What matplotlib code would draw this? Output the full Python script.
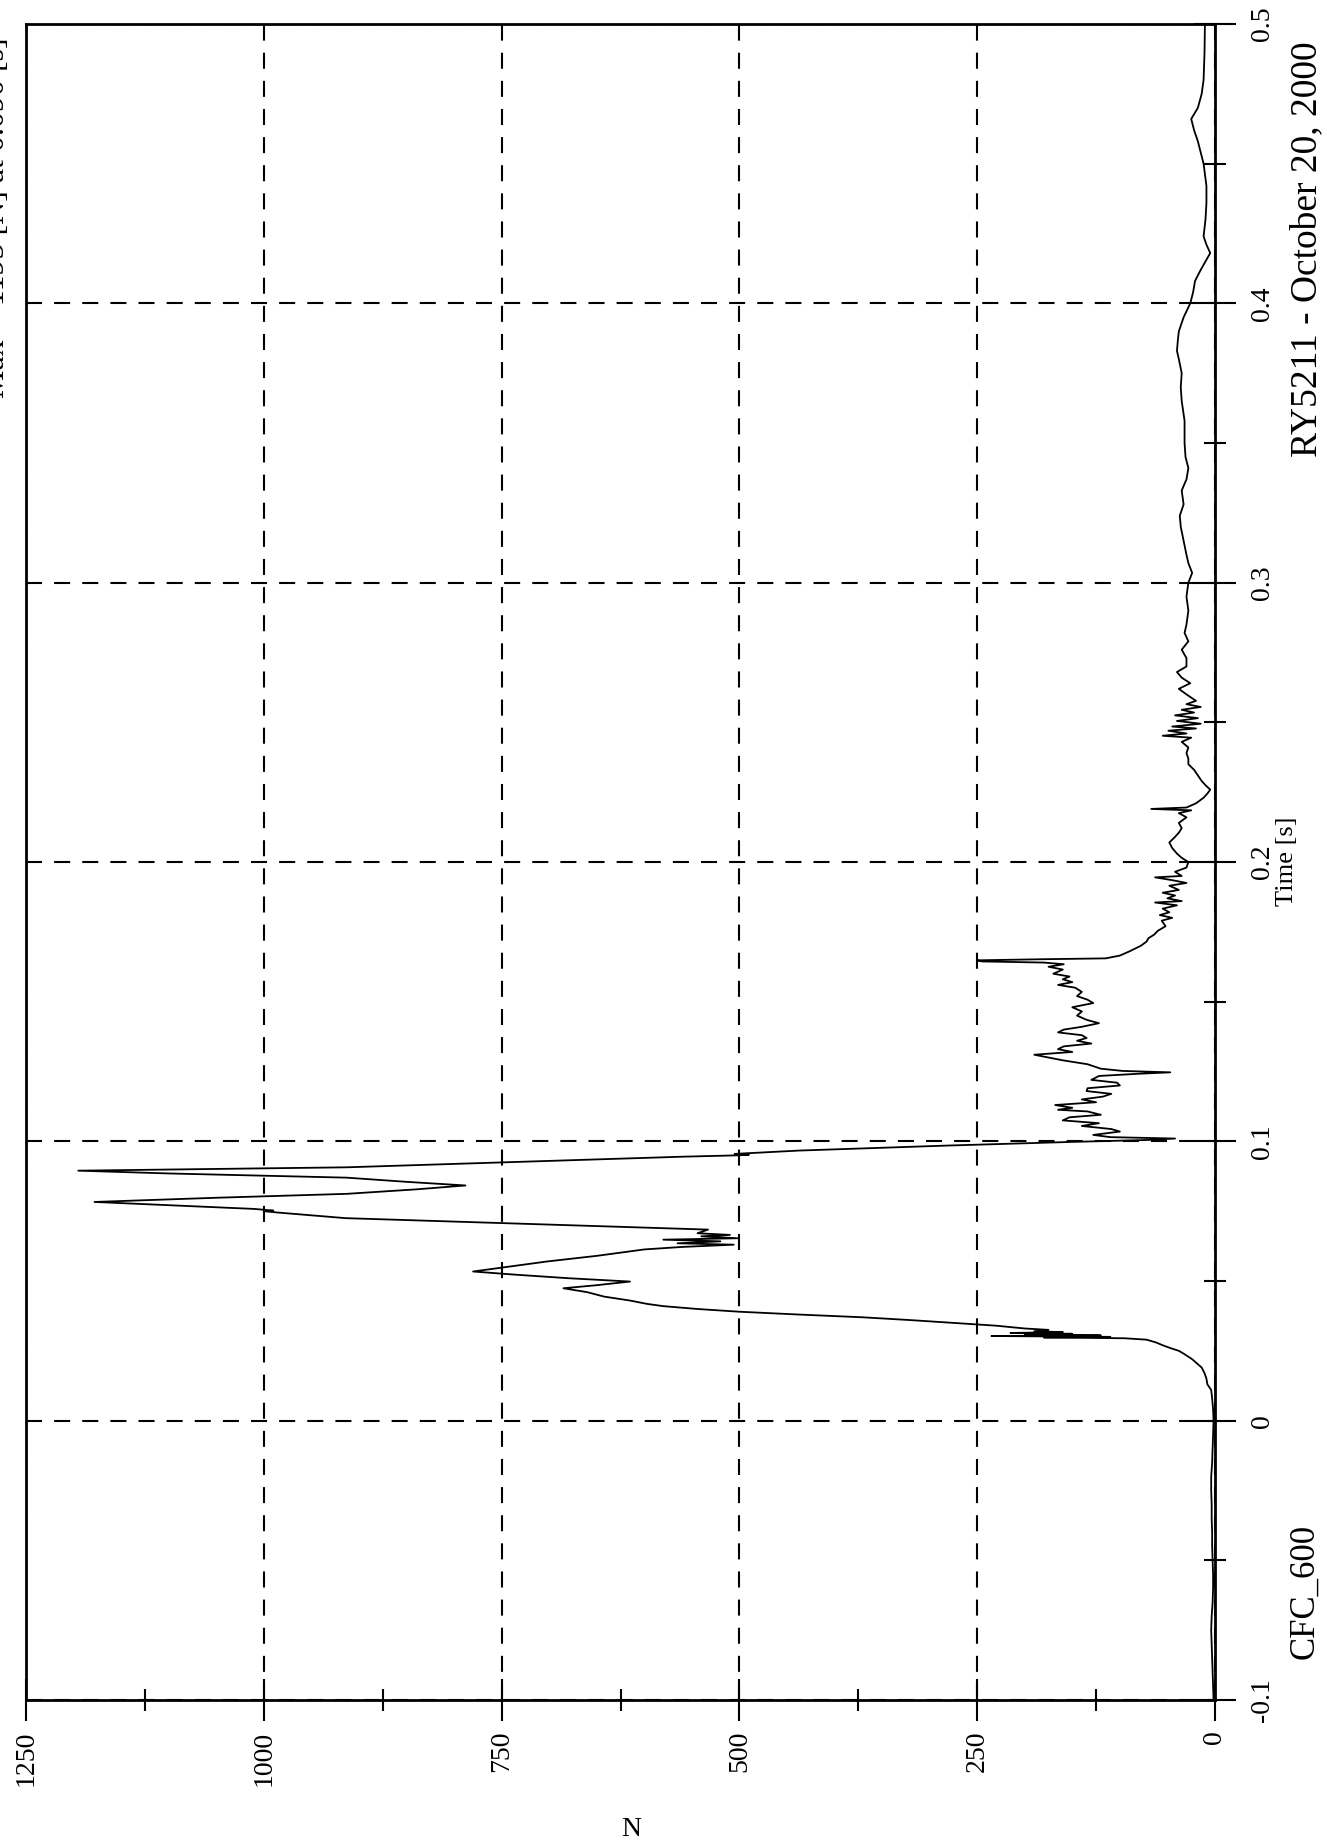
import numpy as np
import matplotlib.pyplot as plt

plt.rcParams['font.family'] = ['Liberation Serif', 'DejaVu Serif']

# time [s] and force [N]
time_s = [
    -0.100, -0.095, -0.090, -0.085, -0.080, -0.075, -0.070, -0.065, -0.060, -0.055,
    -0.050, -0.045, -0.040, -0.035, -0.030, -0.025, -0.020, -0.015, -0.010, -0.005,
    0.000, 0.004, 0.008, 0.011, 0.013, 0.015, 0.017, 0.019, 0.0205, 0.022,
    0.024, 0.025, 0.026, 0.027, 0.028, 0.029, 0.0295, 0.0298, 0.0300, 0.0303,
    0.0305, 0.0308, 0.0311, 0.0314, 0.0317, 0.0320, 0.0325, 0.033, 0.034, 0.035,
    0.036, 0.037, 0.038, 0.039, 0.040, 0.041, 0.0418, 0.043, 0.0444, 0.046,
    0.0474, 0.0485, 0.0498, 0.051, 0.0523, 0.0534, 0.055, 0.057, 0.059, 0.0613,
    0.0622, 0.063, 0.0635, 0.0642, 0.0648, 0.0653, 0.066, 0.0665, 0.0671, 0.0684,
    0.0725, 0.0745, 0.0750, 0.0752, 0.0758, 0.0783, 0.0798, 0.0812, 0.0828, 0.0842,
    0.0855, 0.0870, 0.0885, 0.0895, 0.0900, 0.0907, 0.0930, 0.0945, 0.0950, 0.0952,
    0.0955, 0.0967, 0.0985, 0.0998, 0.1005, 0.1010, 0.1015, 0.1023, 0.1035, 0.1044,
    0.1055, 0.1065, 0.1075, 0.1086, 0.1095, 0.1107, 0.1113, 0.1120, 0.1130, 0.1140,
    0.1150, 0.1160, 0.1170, 0.1180, 0.1190, 0.1200, 0.1210, 0.1220, 0.1234, 0.1242,
    0.1247, 0.1252, 0.1260, 0.1276, 0.1290, 0.1300, 0.1310, 0.1320, 0.1330, 0.1340,
    0.1350, 0.1360, 0.1370, 0.1380, 0.1390, 0.1400, 0.1410, 0.1423, 0.1435, 0.1450,
    0.1465, 0.1480, 0.1495, 0.1507, 0.1520, 0.1535, 0.1550, 0.1560, 0.1570, 0.1580,
    0.1590, 0.1600, 0.1615, 0.1625, 0.1634, 0.1640, 0.1644, 0.1648, 0.1652, 0.1655,
    0.1665, 0.1680, 0.1700, 0.1715, 0.1727, 0.1740, 0.1754, 0.1770, 0.1790, 0.1800,
    0.1810, 0.1820, 0.1833, 0.1845, 0.1855, 0.1860, 0.1870, 0.1880, 0.1890, 0.1900,
    0.1915, 0.1925, 0.1935, 0.1945, 0.1950, 0.1965, 0.1980, 0.2000, 0.2015, 0.2030,
    0.2050, 0.2070, 0.2090, 0.2105, 0.2121, 0.2140, 0.2160, 0.2175, 0.2185, 0.2190,
    0.2195, 0.2210, 0.2230, 0.2245, 0.2259, 0.2275, 0.2290, 0.2310, 0.2330, 0.2350,
    0.2370, 0.2390, 0.2410, 0.2430, 0.2445, 0.2452, 0.2460, 0.2470, 0.2478, 0.2485,
    0.2495, 0.2505, 0.2515, 0.2525, 0.2535, 0.2545, 0.2555, 0.2565, 0.2577, 0.2600,
    0.2620, 0.2640, 0.2660, 0.2680, 0.2700, 0.2730, 0.2760, 0.2790, 0.2820, 0.2850,
    0.2900, 0.2950, 0.3000, 0.3035, 0.3070, 0.3100, 0.3150, 0.3200, 0.3240, 0.3280,
    0.3330, 0.3370, 0.3410, 0.3450, 0.3500, 0.3580, 0.3650, 0.3700, 0.3750, 0.3800,
    0.3830, 0.3870, 0.3900, 0.3950, 0.4000, 0.4040, 0.4080, 0.4120, 0.4180, 0.4210,
    0.4240, 0.4300, 0.4360, 0.4420, 0.4500, 0.4580, 0.4620, 0.4660, 0.4700, 0.4750,
    0.4800, 0.4900, 0.5000,
]
force_n = [
    1.5, 2, 2.5, 3, 3.5, 4, 3.5, 2.5, 2, 2,
    2.5, 3, 3, 3.5, 3.5, 4, 4, 3, 2.5, 2,
    1.5, 2, 3, 4, 8, 9, 11, 14, 19, 24,
    33, 38, 47, 55, 62, 72, 95, 180, 110, 235,
    120, 200, 150, 215, 160, 190, 175, 200, 230, 275,
    320, 370, 438, 500, 545, 580, 597, 615, 642, 660,
    685, 650, 615, 680, 737, 780, 745, 702, 650, 600,
    560, 506, 565, 520, 580, 502, 540, 510, 544, 533,
    914, 985, 1000, 990, 1010, 1178, 1050, 913, 840, 788,
    850, 913, 1100, 1195, 1080, 913, 700, 560, 500, 490,
    505, 437, 280, 150, 70, 42, 110, 128, 100, 109,
    140, 122, 160, 153, 120, 134, 165, 150, 168, 125,
    140, 118, 109, 135, 134, 100, 103, 130, 122, 80,
    47, 97, 120, 134, 160, 175, 190, 150, 165, 159,
    130, 145, 135, 140, 165, 159, 140, 122, 135, 145,
    140, 150, 128, 134, 145, 140, 147, 165, 150, 160,
    153, 170, 160, 175, 159, 180, 245, 250, 180, 115,
    100, 90, 78, 72, 70, 64, 60, 52, 56, 45,
    58, 48, 55, 40, 63, 35, 50, 42, 55, 38,
    48, 30, 45, 63, 35, 42, 30, 28, 35, 40,
    45, 48, 42, 38, 35, 38, 30, 38, 25, 67,
    30, 20, 12, 8, 5, 10, 14, 18, 22, 28,
    28, 30, 28, 35, 25, 55, 30, 49, 20, 45,
    15, 40, 18, 42, 22, 35, 15, 30, 20, 30,
    38, 26, 35, 40, 30, 30, 35, 28, 32, 30,
    28, 30, 28, 24, 28, 30, 33, 36, 37, 33,
    35, 30, 28, 31, 32, 32, 35, 36, 35, 38,
    40, 39, 38, 33, 26, 23, 21, 15, 5, 9,
    12, 10, 9, 9, 12, 18, 22, 25, 18, 14,
    12, 11, 10.6,
]

n_major = [0, 250, 500, 750, 1000, 1250]
n_labels = ['0', '250', '500', '750', '1000', '1250']
n_minor = [125, 375, 625, 875, 1125]
t_major = [-0.1, 0.0, 0.1, 0.2, 0.3, 0.4, 0.5]
t_labels = ['-0.1', '0', '0.1', '0.2', '0.3', '0.4', '0.5']
t_minor = [-0.05, 0.05, 0.15, 0.25, 0.35, 0.45]

W, H = 1327, 1843
fig = plt.figure(figsize=(W / 100, H / 100), dpi=100)
ax = fig.add_axes([26 / W, 1 - 1700 / H, (1215 - 26) / W, (1700 - 24) / H])

ax.plot(force_n, time_s, color='black', lw=1.3)
ax.set_xlim(1250, 0)
ax.set_ylim(-0.1, 0.5)

ax.set_xticks(n_major)
ax.set_xticklabels(n_labels, rotation=90)
ax.set_xticks(n_minor, minor=True)
ax.yaxis.tick_right()
ax.set_yticks(t_major)
ax.set_yticklabels(t_labels, rotation=90, va='center')
ax.set_yticks(t_minor, minor=True)

ax.tick_params(which='major', direction='inout', length=30, width=1.5,
               labelsize=20, color='black')
ax.tick_params(which='minor', direction='inout', length=16, width=1.5)
ax.tick_params(axis='x', pad=7)
ax.tick_params(axis='y', pad=10)
for s in ax.spines.values():
    s.set_linewidth(2)

ax.grid(True, which='major', color='black', lw=1.5, linestyle=(0, (7.7, 5.8)))

fig.text(1287 / W, 1 - 861 / H, 'Time [s]', rotation=90, ha='center', va='center', size=19)
fig.text(1307 / W, 1 - 249 / H, 'RY5211 - October 20, 2000', rotation=90,
         ha='center', va='center', size=27)
fig.text(1305 / W, 1 - 1591 / H, 'CFC_600', rotation=90, ha='center', va='center', size=25)
fig.text(631 / W, 1 - 1830 / H, 'N', ha='center', va='center', size=20)
# header line that is cut off at the page edge in the scan
fig.text(4 / W, 1 - 37 / H, 'Max = 1195 [N] at 0.090 [s]', rotation=90,
         rotation_mode='anchor', ha='right', va='baseline', size=23)

fig.savefig('out.png', dpi=100)
